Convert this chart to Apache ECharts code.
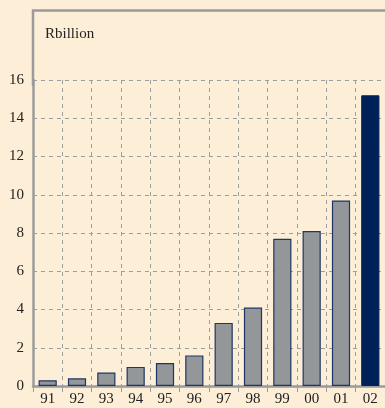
<!DOCTYPE html>
<html>
<head>
<meta charset="utf-8">
<script src="https://cdn.jsdelivr.net/npm/echarts@6/dist/echarts.min.js"></script>
<style>
  html, body { margin: 0; padding: 0; background: #fdefd7; }
  #chart { width: 385px; height: 408px; }
</style>
</head>
<body>
<div id="chart"></div>
<script>
// Annual values, Rbillion
const years = ['91', '92', '93', '94', '95', '96', '97', '98', '99', '00', '01', '02'];
const values = [0.3, 0.4, 0.7, 1.0, 1.2, 1.6, 3.3, 4.1, 7.7, 8.1, 9.7, 15.2];
const highlightYear = '02';
const yTicks = [0, 2, 4, 6, 8, 10, 12, 14, 16];

const FONT = '"Liberation Serif", "DejaVu Serif", serif';
const GRID_COLOR = '#9b9d9f';

const chart = echarts.init(document.getElementById('chart'), null, { renderer: 'canvas' });

const barData = years.map((y, i) => ({
  value: values[i],
  itemStyle: y === highlightYear
    ? { color: '#002157', borderColor: '#002157', borderWidth: 1 }
    : { color: '#939799', borderColor: '#1f3566', borderWidth: 1.2 }
}));

chart.setOption({
  backgroundColor: '#fdefd7',
  animation: false,
  grid: { left: 33, right: -3, top: 80, bottom: 22, containLabel: false },
  graphic: [
    {
      // outer frame: top edge and upper part of the left edge
      type: 'polyline',
      z: 10,
      shape: { points: [[33, 86], [33, 10.5], [390, 10.5]] },
      style: { stroke: '#9b9b9b', lineWidth: 2.5, fill: null }
    },
    {
      type: 'text',
      left: 45,
      top: 27,
      style: { text: 'Rbillion', font: '15px ' + FONT, fill: '#222' }
    }
  ],
  xAxis: {
    type: 'category',
    data: years,
    boundaryGap: true,
    axisLine: { show: true, lineStyle: { color: '#9b9b9b', width: 2.5 } },
    axisTick: { show: true, alignWithLabel: false, length: 6, lineStyle: { color: '#9b9b9b', width: 1 } },
    axisLabel: { color: '#222', fontFamily: FONT, fontSize: 15, margin: 6 },
    splitLine: { show: true, lineStyle: { color: GRID_COLOR, type: [4, 4], width: 1 } }
  },
  yAxis: {
    type: 'value',
    min: yTicks[0],
    max: yTicks[yTicks.length - 1],
    interval: 2,
    axisLine: { show: true, lineStyle: { color: '#9b9b9b', width: 2.5 } },
    axisTick: { show: false },
    axisLabel: { color: '#222', fontFamily: FONT, fontSize: 15, margin: 9 },
    splitLine: { show: true, lineStyle: { color: GRID_COLOR, type: [4, 4], width: 1 } }
  },
  series: [{
    type: 'bar',
    data: barData,
    barWidth: '62%',
    z: 3
  }]
});
</script>
</body>
</html>
